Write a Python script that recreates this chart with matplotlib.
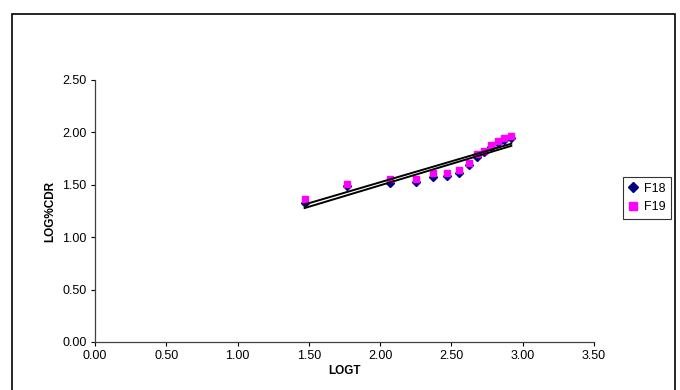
import numpy as np
import matplotlib
matplotlib.use("Agg")
import matplotlib.pyplot as plt
from matplotlib.patches import Rectangle

# LOGT vs LOG%CDR for two formulations
logt = [1.47, 1.77, 2.07, 2.25, 2.37, 2.47, 2.55, 2.62, 2.68, 2.73, 2.78, 2.83, 2.87, 2.92]
f18 = [1.33, 1.49, 1.52, 1.53, 1.57, 1.58, 1.61, 1.69, 1.77, 1.81, 1.86, 1.90, 1.93, 1.95]
f19 = [1.36, 1.51, 1.56, 1.56, 1.61, 1.61, 1.64, 1.71, 1.79, 1.82, 1.88, 1.92, 1.95, 1.97]
xticks = [0.0, 0.5, 1.0, 1.5, 2.0, 2.5, 3.0, 3.5]
yticks = [0.0, 0.5, 1.0, 1.5, 2.0, 2.5]

plt.rcParams["font.family"] = ["Liberation Sans", "DejaVu Sans"]

fig = plt.figure(figsize=(6.8, 3.9), dpi=100)
fig.patches.append(Rectangle((12 / 680, -0.05), 663 / 680, 1.05 - 14 / 390,
                             transform=fig.transFigure, fill=False,
                             edgecolor="black", lw=1.2))

ax = fig.add_axes([95 / 680, 1 - 342 / 390, (594 - 95) / 680, (342 - 80) / 390])
ax.plot(logt, f18, ls="none", marker="D", ms=4.5, color="#000080", label="F18", zorder=3)
ax.plot(logt, f19, ls="none", marker="s", ms=5, color="#FF00FF", label="F19", zorder=4)

# linear trendlines
x = np.array(logt)
for ys in (f18, f19):
    k, b = np.polyfit(x, ys, 1)
    ax.plot([x[0], x[-1]], [k * x[0] + b, k * x[-1] + b], color="black", lw=1.4, zorder=5)

ax.set_xlim(0, 3.5); ax.set_ylim(0, 2.5)
ax.set_xticks(xticks); ax.set_yticks(yticks)
ax.set_xticklabels([f"{v:.2f}" for v in xticks], fontsize=9)
ax.set_yticklabels([f"{v:.2f}" for v in yticks], fontsize=9)
ax.tick_params(direction="out", length=3, width=0.8, colors="black", pad=3)
for s in ("top", "right"):
    ax.spines[s].set_visible(False)
for s in ("left", "bottom"):
    ax.spines[s].set_color("#404040")
    ax.spines[s].set_linewidth(0.9)
ax.set_xlabel("LOGT", fontsize=8.5, fontweight="bold", labelpad=2)
ax.set_ylabel("LOG%CDR", fontsize=8.5, fontweight="bold", labelpad=4)

leg = ax.legend(loc="center left", bbox_to_anchor=(623 / 680, 1 - 198 / 390),
                bbox_transform=fig.transFigure, fontsize=9, frameon=True,
                fancybox=False, edgecolor="black", handlelength=0.7,
                handletextpad=0.5, borderpad=0.45, labelspacing=0.55, borderaxespad=0,
                markerscale=1.2)
leg.get_frame().set_linewidth(0.8)

fig.savefig("out.png", dpi=100)
